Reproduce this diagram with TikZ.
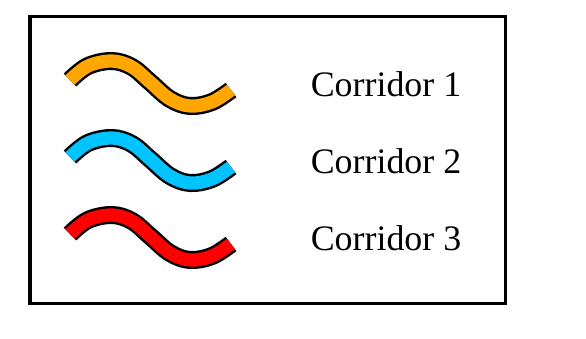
\documentclass[tikz,border=0pt]{standalone}
\usepackage{fontspec}
\setmainfont{Liberation Serif}
\usetikzlibrary{positioning}
\definecolor{corrorange}{RGB}{255,166,0}
\definecolor{corrblue}{RGB}{0,196,255}
\definecolor{corrred}{RGB}{255,0,0}
\tikzset{
    corridor/.style={line width=0.06cm, double=#1, double distance=0.33cm, line cap=butt, line join=round},
    corridor/.default={corrorange},
    legendtext/.style={font=\fontsize{25.5}{30}\selectfont, inner sep=0pt}
}
\begin{document}
\begin{tikzpicture}[x=0.025cm, y=-0.025cm]
    \useasboundingbox (0,0) rectangle (586,338);
    \draw[line width=0.075cm] (30,16) rectangle (505,303);
    \foreach \col/\dy/\num in {corrorange/0/1, corrblue/77/2, corrred/154/3}{
    \begin{scope}[yshift=-\dy*0.025cm]
    \draw[corridor=\col] plot[smooth, tension=0.6] coordinates {(70,80) (88,66) (112,61) (132,67) (150,82) (170,99) (190,106) (212,102) (231,90)};
    \end{scope}
    \node[legendtext] (label\num) at (386,84+\dy) {Corridor \num};
    }
\end{tikzpicture}
\end{document}
